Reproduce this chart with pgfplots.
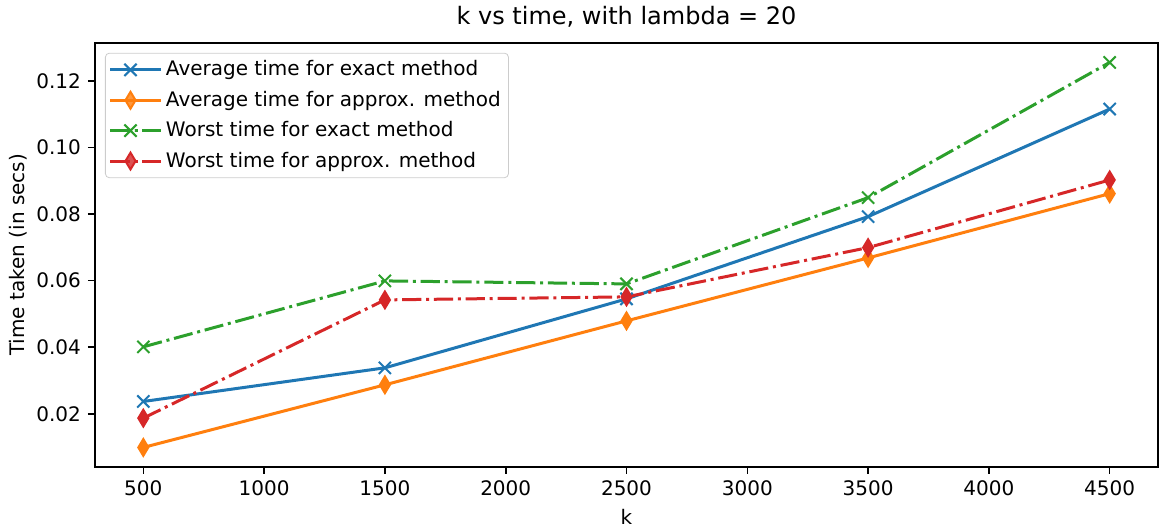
\documentclass[border=0pt]{standalone}
\usepackage{fontspec}
\setmainfont{DejaVu Sans}
\usepackage{pgfplots}
\pgfplotsset{compat=1.18}
\definecolor{c0}{HTML}{1F77B4}
\definecolor{c1}{HTML}{FF7F0E}
\definecolor{c2}{HTML}{2CA02C}
\definecolor{c3}{HTML}{D62728}
\begin{document}
\begin{tikzpicture}
\path (-47.5pt,-30.5pt) rectangle (532pt,231pt);
\begin{axis}[
  at={(0,0)}, anchor=south west,
  scale only axis, width=531.5pt, height=212pt,
  xmin=300, xmax=4700, ymin=0.0041, ymax=0.1314,
  xtick={500,1000,...,4500},
  ytick={0.02,0.04,0.06,0.08,0.10,0.12},
  /pgf/number format/assume math mode=true,
  x tick label style={/pgf/number format/1000 sep={}},
  y tick label style={/pgf/number format/.cd, fixed, fixed zerofill, precision=2},
  tick align=outside, major tick length=3.5pt,
  tick style={black, line width=0.8pt},
  axis line style={line width=0.8pt},
  xtick pos=bottom, ytick pos=left,
  tick label style={font=\fontsize{10}{12}\selectfont},
  label style={font=\fontsize{10}{12}\selectfont},
  xlabel={k}, ylabel={Time taken (in secs)},
  ylabel style={yshift=-2pt},
  title={k vs time, with lambda = 20},
  title style={font=\fontsize{12}{14}\selectfont, yshift=-2pt},
  legend style={at={(0,1)}, anchor=north west, xshift=5pt, yshift=-5pt,
    draw=white!80!black, rounded corners=2pt, fill=white, fill opacity=0.8, text opacity=1,
    font=\fontsize{10}{12}\selectfont, inner sep=1.8pt, row sep=2.1pt},
  legend cell align=left,
  legend image code/.code={\draw[mark repeat=2,mark phase=2] plot coordinates {(0pt,0pt) (10pt,0pt) (20pt,0pt)};
    \path (0pt,0pt) -- (25pt,0pt);},
  every axis plot/.append style={line width=1.5pt},
]
\addplot[c0, mark=x, mark size=4.3pt, mark options={solid, line width=1pt}] coordinates {
(500,0.0237) (1500,0.0338) (2500,0.0545) (3500,0.0792) (4500,0.1115)};
\addlegendentry{Average time for exact method}
\addplot[c1, mark=diamond*, mark size=4.2pt, mark options={solid, xscale=0.8, line width=1pt, draw=c1, fill=c1}] coordinates {
(500,0.0099) (1500,0.0287) (2500,0.0479) (3500,0.0668) (4500,0.0861)};
\addlegendentry{Average time for approx. method}
\addplot[c2, dash pattern=on 9.6pt off 2.4pt on 1.5pt off 2.4pt, mark=x, mark size=4.3pt, mark options={solid, line width=1pt}] coordinates {
(500,0.0401) (1500,0.0599) (2500,0.0590) (3500,0.0849) (4500,0.1255)};
\addlegendentry{Worst time for exact method}
\addplot[c3, dash pattern=on 9.6pt off 2.4pt on 1.5pt off 2.4pt, mark=diamond*, mark size=4.2pt, mark options={solid, xscale=0.8, line width=1pt, draw=c3, fill=c3}] coordinates {
(500,0.0187) (1500,0.0542) (2500,0.0551) (3500,0.0699) (4500,0.0902)};
\addlegendentry{Worst time for approx. method}
\end{axis}
\end{tikzpicture}
\end{document}
